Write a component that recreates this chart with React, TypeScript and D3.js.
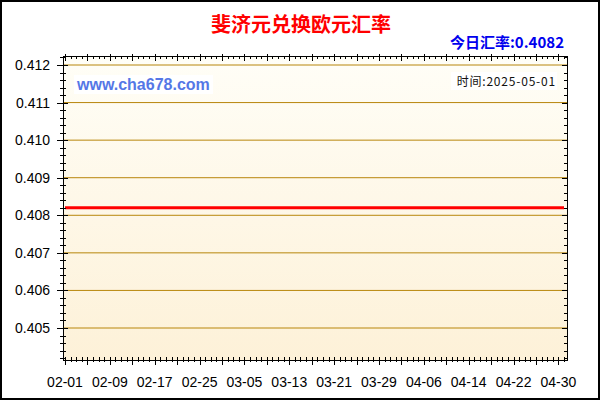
import * as d3 from "d3";

// 斐济元兑换欧元汇率, 2025-02-01 .. 2025-05-01, one value per day
const startDay = "2025-02-01";
const endDay = "2025-05-01";
const rates = [
  0.4082, 0.4082, 0.4082, 0.4082, 0.4082, 0.4082, 0.4082, 0.4082, 0.4082, 0.4082,
  0.4082, 0.4082, 0.4082, 0.4082, 0.4082, 0.4082, 0.4082, 0.4082, 0.4082, 0.4082,
  0.4082, 0.4082, 0.4082, 0.4082, 0.4082, 0.4082, 0.4082, 0.4082, 0.4082, 0.4082,
  0.4082, 0.4082, 0.4082, 0.4082, 0.4082, 0.4082, 0.4082, 0.4082, 0.4082, 0.4082,
  0.4082, 0.4082, 0.4082, 0.4082, 0.4082, 0.4082, 0.4082, 0.4082, 0.4082, 0.4082,
  0.4082, 0.4082, 0.4082, 0.4082, 0.4082, 0.4082, 0.4082, 0.4082, 0.4082, 0.4082,
  0.4082, 0.4082, 0.4082, 0.4082, 0.4082, 0.4082, 0.4082, 0.4082, 0.4082, 0.4082,
  0.4082, 0.4082, 0.4082, 0.4082, 0.4082, 0.4082, 0.4082, 0.4082, 0.4082, 0.4082,
  0.4082, 0.4082, 0.4082, 0.4082, 0.4082, 0.4082, 0.4082, 0.4082, 0.4082, 0.4082,
];
const xTickLabels = ["02-01", "02-09", "02-17", "02-25", "03-05", "03-13", "03-21", "03-29", "04-06", "04-14", "04-22", "04-30"];
const yTicks = [0.405, 0.406, 0.407, 0.408, 0.409, 0.41, 0.411, 0.412];
const title = "斐济元兑换欧元汇率";
const todayText = "今日汇率:0.4082";
const dateText = "时间:2025-05-01";
const siteText = "www.cha678.com";

const W = 600;
const H = 400;
const plot = { left: 63, right: 567, top: 56, bottom: 360 };

const parse = (s: string) => new Date(s + "T00:00:00Z");

export default function App() {
  const days = d3.utcDay.range(parse(startDay), d3.utcDay.offset(parse(endDay), 1));
  const series = days.map((d, i) => ({ date: d, value: rates[i] })).filter(p => p.value !== undefined);

  const x = d3.scaleUtc().domain([parse(startDay), parse(endDay)]).range([65, 564]);
  const y = d3.scaleLinear().domain([0.405, 0.412]).range([328, 65]);

  const line = d3.line<{ date: Date; value: number }>()
    .x(d => x(d.date))
    .y(d => y(d.value));

  // minor y ticks every 0.0002 inside the plot
  const yMinor = d3.range(0, 60)
    .map(i => 0.404 + i * 0.0002)
    .filter(v => y(v) <= plot.bottom - 1 && y(v) >= plot.top + 1);

  const dayTicks = days.filter(d => x(d) < plot.right);
  const isMajorDay = (d: Date) => d3.utcDay.count(parse(startDay), d) % 4 === 0;

  const cjk = "'Noto Sans CJK SC', 'Noto Sans', sans-serif";
  const arial = "'Liberation Sans', Arial, sans-serif";

  return (
    <svg width={W} height={H} style={{ position: "absolute", left: 0, top: 0, display: "block" }}>
      <defs>
        <linearGradient id="bg" x1="0" y1="0" x2="0" y2="1">
          <stop offset="0" stopColor="#fffef7" />
          <stop offset="1" stopColor="#fdf1d8" />
        </linearGradient>
      </defs>
      <rect x={0} y={0} width={W} height={H} fill="#ffffff" />
      <rect x={1} y={1} width={W - 2} height={H - 2} fill="none" stroke="#000" strokeWidth={2} />

      <rect x={plot.left} y={plot.top} width={plot.right - plot.left} height={plot.bottom - plot.top} fill="url(#bg)" />

      {yTicks.map(v => (
        <line key={"g" + v} x1={plot.left} x2={plot.right} y1={y(v)} y2={y(v)} stroke="#b8860b" strokeWidth={1} />
      ))}

      {/* watermark + date boxes */}
      <rect x={74} y={75} width={139} height={19} fill="#ffffff" />
      <text x={77} y={90} fontFamily={arial} fontWeight="bold" fontSize={16} fill="#5577e6">{siteText}</text>
      <rect x={451} y={72} width={106} height={18} fill="#ffffff" />
      <text x={556} y={86} textAnchor="end" fontFamily={cjk} fontSize={12} letterSpacing={0.8} fill="#111">{dateText}</text>

      <path d={line(series) ?? ""} fill="none" stroke="#ff0000" strokeWidth={3} />

      {/* frame */}
      <rect x={plot.left} y={plot.top} width={plot.right - plot.left} height={plot.bottom - plot.top} fill="none" stroke="#000" strokeWidth={1} shapeRendering="crispEdges" />

      <g stroke="#000" strokeWidth={1} shapeRendering="crispEdges">
        {yMinor.map((v, i) => (
          <g key={"ym" + i}>
            <line x1={plot.left - 3} x2={plot.left + 3} y1={Math.round(y(v))} y2={Math.round(y(v))} />
            <line x1={plot.right - 3} x2={plot.right} y1={Math.round(y(v))} y2={Math.round(y(v))} />
          </g>
        ))}
        {yTicks.map(v => (
          <g key={"yM" + v}>
            <line x1={plot.left - 6} x2={plot.left + 5} y1={Math.round(y(v))} y2={Math.round(y(v))} />
            <line x1={plot.right - 5} x2={plot.right + 1} y1={Math.round(y(v))} y2={Math.round(y(v))} />
          </g>
        ))}
        {dayTicks.map((d, i) => {
          const px = Math.round(x(d));
          const major = isMajorDay(d);
          return (
            <g key={"xt" + i}>
              <line x1={px} x2={px} y1={plot.bottom - 3} y2={plot.bottom + (major ? 5 : 2)} />
              <line x1={px} x2={px} y1={plot.top - (major ? 2 : 0)} y2={plot.top + (major ? 5 : 3)} />
            </g>
          );
        })}
      </g>

      {yTicks.map(v => (
        <text key={"yl" + v} x={50} y={y(v) + 5} textAnchor="end" fontFamily={arial} fontSize={14} fill="#000">
          {d3.format(".3f")(v)}
        </text>
      ))}
      {xTickLabels.map(l => (
        <text key={"xl" + l} x={x(parse("2025-" + l))} y={387} textAnchor="middle" fontFamily={arial} fontSize={14} fill="#000">
          {l}
        </text>
      ))}

      <text x={301} y={32} textAnchor="middle" fontFamily={cjk} fontWeight="bold" fontSize={20} fill="#ff0000">{title}</text>
      <text x={564} y={48} textAnchor="end" fontFamily={cjk} fontWeight="bold" fontSize={15} fill="#0000ee">{todayText}</text>
    </svg>
  );
}
